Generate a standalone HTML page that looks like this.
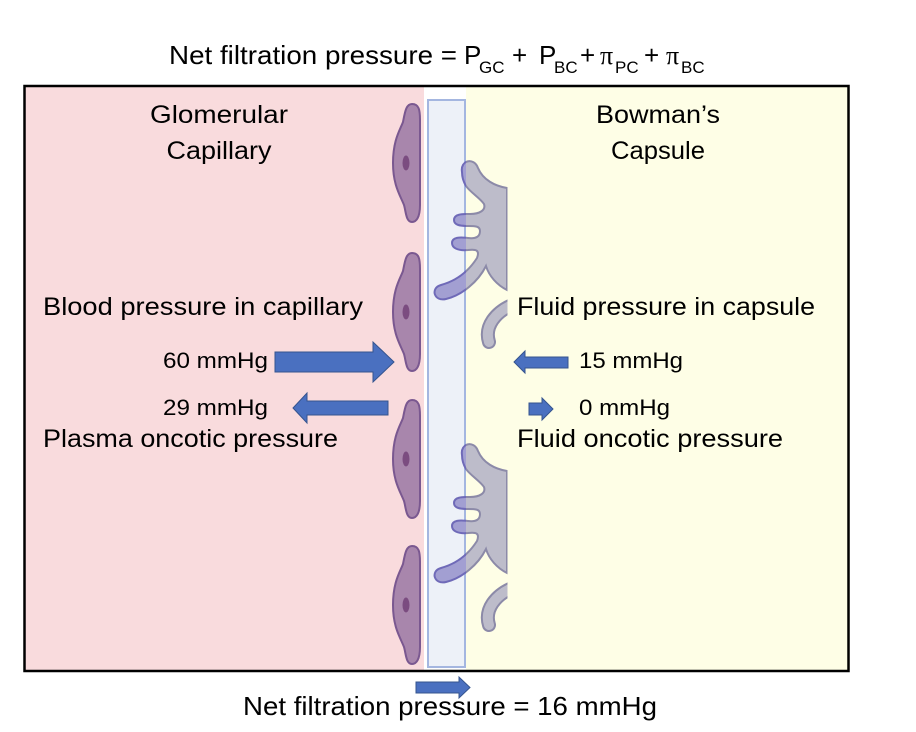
<!DOCTYPE html>
<html><head><meta charset="utf-8"><style>
html,body{margin:0;padding:0;background:#fff;}
svg{display:block;}
text{font-family:"Liberation Sans",sans-serif;fill:#000;}
</style></head><body>
<svg width="916" height="732" viewBox="0 0 916 732" xmlns="http://www.w3.org/2000/svg">
<defs>
<clipPath id="inBar"><rect x="0" y="0" width="466" height="732"/></clipPath>
<clipPath id="outBar"><rect x="466" y="0" width="41.5" height="732"/></clipPath>
<g id="podo">
<path d="M462,172 C460,160 474,157 478,168 C483,180 495,186 507,188 L507,290 C497,285 489,276 486,266 C478,282 462,295 446,299 C434,302 430,288 441,285 C456,281 468,272 477,258 C480,250 476,249 468,250 C458,251 452,248 452,243 C452,237 460,237 468,238 C477,239 480,236 480,231 C480,226 475,226 468,226 C460,226 454,225 454,220 C454,214 462,214 470,214 C480,214 486,210 484,204 C480,198 470,192 466,186 C463,181 462,177 462,172 Z"/>
</g>
<g id="curl"><path d="M512,305 C496,312 484,326 489,342" fill="none"/></g>
<g id="cell">
<path d="M412,104 C419,104 420,110 420,120 L420,205 C420,218 416,222 412,222 C406,222 406,212 404,205 C400,195 393,185 393,163 C393,140 400,130 403,122 C405,112 406,104 412,104 Z" fill="#a886ac" stroke="#7a5890" stroke-width="2"/>
<ellipse cx="406" cy="163" rx="3.5" ry="7.5" fill="#7b4c80"/>
</g>
</defs>

<rect x="24" y="86" width="400" height="585" fill="#f9dbdd"/>
<rect x="466" y="86" width="383" height="585" fill="#fefee6"/>
<rect x="428" y="100" width="37" height="567" fill="#edf1f8" stroke="#a4b6e0" stroke-width="2"/>

<use href="#cell"/>
<use href="#cell" transform="translate(0,149)"/>
<use href="#cell" transform="translate(0,296)"/>
<use href="#cell" transform="translate(0,442)"/>

<g id="pod1">
 <g clip-path="url(#outBar)">
  <use href="#podo" fill="#bdbcca" stroke="#8c8aa8" stroke-width="2"/>
  <use href="#curl" stroke="#8c8aa8" stroke-width="14" stroke-linecap="round"/>
  <use href="#curl" stroke="#bdbcca" stroke-width="10" stroke-linecap="round"/>
 </g>
 <g clip-path="url(#inBar)">
  <use href="#podo" fill="#a29fd2" stroke="#6f6ab8" stroke-width="2"/>
 </g>
</g>
<use href="#pod1" transform="translate(0,283)"/>

<rect x="24.5" y="86" width="824" height="585" fill="none" stroke="#000" stroke-width="2.5"/>

<text y="64" font-size="26"><tspan x="169" textLength="288" lengthAdjust="spacingAndGlyphs">Net filtration pressure =</tspan></text>
<text x="464" y="64" font-size="26">P</text>
<text x="479" y="73" font-size="17">GC</text>
<text x="512" y="64" font-size="26">+</text>
<text x="539" y="64" font-size="26">P</text>
<text x="554" y="73" font-size="17">BC</text>
<text x="580" y="64" font-size="26">+</text>
<text x="600" y="64" font-size="26" style="font-family:'Liberation Serif',serif">π</text>
<text x="615" y="73" font-size="17">PC</text>
<text x="644" y="64" font-size="26">+</text>
<text x="666" y="64" font-size="26" style="font-family:'Liberation Serif',serif">π</text>
<text x="681" y="73" font-size="17">BC</text>

<text x="219" y="123" font-size="25" text-anchor="middle" textLength="138" lengthAdjust="spacingAndGlyphs">Glomerular</text>
<text x="219" y="159" font-size="25" text-anchor="middle" textLength="105" lengthAdjust="spacingAndGlyphs">Capillary</text>
<text x="43" y="315" font-size="25" textLength="320" lengthAdjust="spacingAndGlyphs">Blood pressure in capillary</text>
<text x="163" y="368" font-size="22" textLength="105" lengthAdjust="spacingAndGlyphs">60 mmHg</text>
<text x="163" y="415" font-size="22" textLength="105" lengthAdjust="spacingAndGlyphs">29 mmHg</text>
<text x="43" y="447" font-size="25" textLength="295" lengthAdjust="spacingAndGlyphs">Plasma oncotic pressure</text>

<text x="658" y="123" font-size="25" text-anchor="middle" textLength="124" lengthAdjust="spacingAndGlyphs">Bowman’s</text>
<text x="658" y="159" font-size="25" text-anchor="middle" textLength="94" lengthAdjust="spacingAndGlyphs">Capsule</text>
<text x="517" y="315" font-size="25" textLength="298" lengthAdjust="spacingAndGlyphs">Fluid pressure in capsule</text>
<text x="579" y="368" font-size="22" textLength="104" lengthAdjust="spacingAndGlyphs">15 mmHg</text>
<text x="579" y="415" font-size="22" textLength="91" lengthAdjust="spacingAndGlyphs">0 mmHg</text>
<text x="517" y="447" font-size="25" textLength="266" lengthAdjust="spacingAndGlyphs">Fluid oncotic pressure</text>

<g fill="#4a70c0" stroke="#35548e" stroke-width="1">
<polygon points="275,352 373,352 373,342 394,362 373,382 373,372 275,372"/>
<polygon points="388,401 307,401 307,393 293,408 307,423 307,415 388,415"/>
<polygon points="568,357 525,357 525,351 514,362 525,373 525,368 568,368"/>
<polygon points="529,403 542,403 542,398 553,409 542,420 542,415 529,415"/>
<polygon points="416,682 459,682 459,677 470,687.5 459,698 459,693 416,693"/>
</g>

<text x="243" y="715" font-size="26" textLength="414" lengthAdjust="spacingAndGlyphs">Net filtration pressure = 16 mmHg</text>
</svg>
</body></html>
